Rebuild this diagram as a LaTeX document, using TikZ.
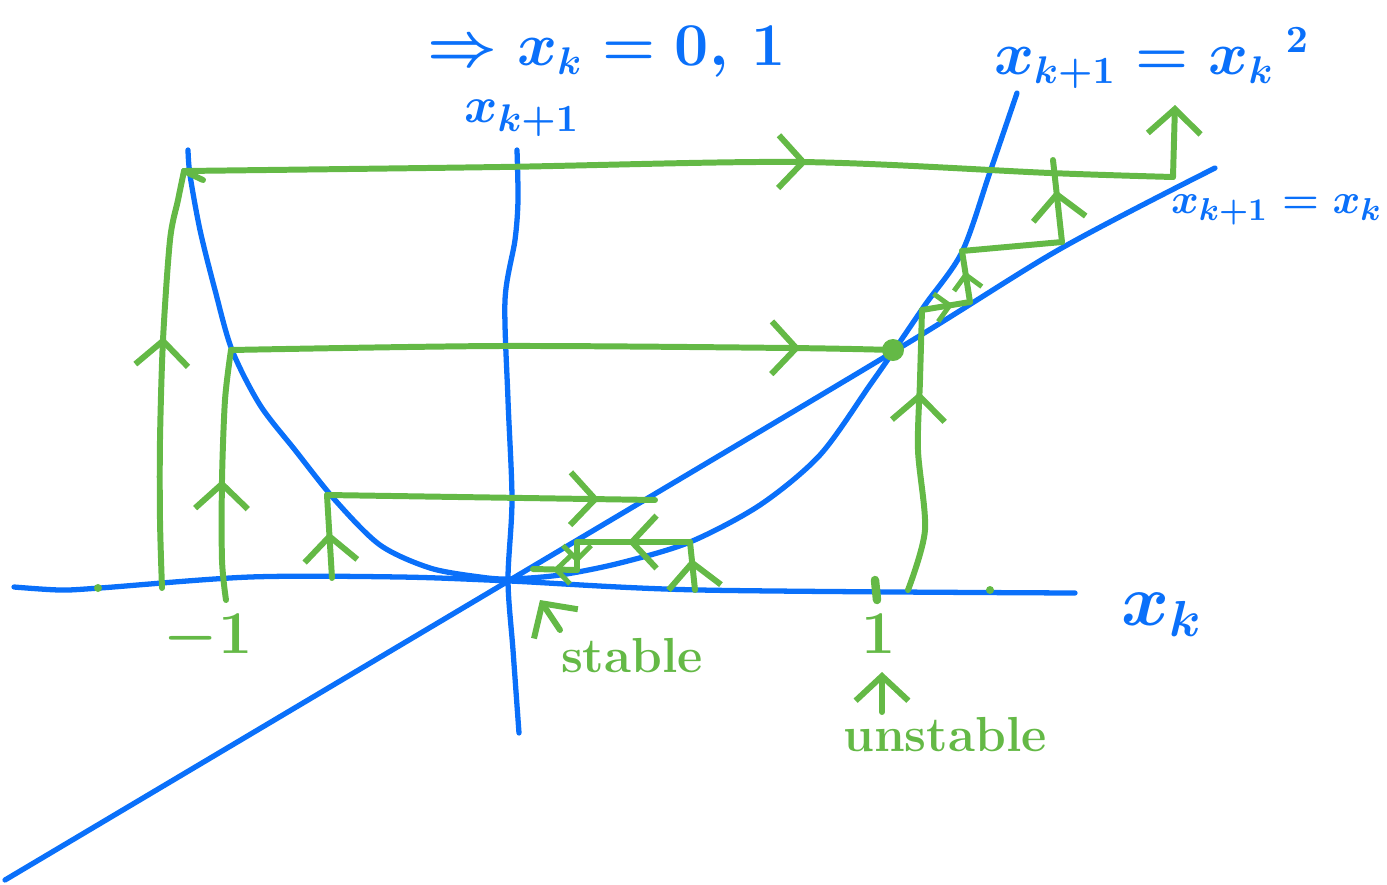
\documentclass[tikz,border=0pt]{standalone}
\usetikzlibrary{arrows.meta,decorations.markings}
\definecolor{pblue}{RGB}{10,112,250}
\definecolor{pgreen}{RGB}{100,185,70}
\begin{document}
\begin{tikzpicture}[x=0.01cm,y=-0.01cm,line cap=round,line join=round,
  bl/.style={pblue,line width=1.5pt},
  gr/.style={pgreen,line width=1.7pt},
  arr/.style={postaction={decorate},decoration={markings,mark=at position #1 with {\arrow[pgreen,line width=1.7pt]{Straight Barb[length=7pt,width=15pt]}}}},
  sarr/.style={postaction={decorate},decoration={markings,mark=at position #1 with {\arrow[pgreen,line width=1.4pt]{Straight Barb[length=4pt,width=8pt]}}}},
  tip/.style={-{Straight Barb[length=7pt,width=15pt]}},
  blab/.style={pblue,inner sep=0pt},
  glab/.style={pgreen,inner sep=0pt}]
\useasboundingbox (0,0) rectangle (1387,884);

% ---- blue axes and curves ----
\draw[bl] plot[smooth] coordinates {(14,587) (60,590) (100,588) (250,577) (400,577) (510,581) (700,590) (1075,593)};
\draw[bl] plot[smooth] coordinates {(517,150) (518,200) (515,240) (505,300) (508,400) (512,500) (508,580) (513,650) (519,733)};
\draw[bl] plot[smooth] coordinates {(5,880) (510,580) (893,352) (1060,249) (1215,168)};
\draw[bl] plot[smooth] coordinates {(188,150) (190,175) (200,230) (215,290) (232,350) (260,405) (295,450) (335,500) (380,545) (430,568) (480,577) (510,579) (560,575) (620,563) (690,542) (760,505) (820,455) (870,385) (893,352) (925,305) (962,252) (990,172) (1017,93)};

% ---- blue labels ----
\node[blab,font=\fontsize{16}{20}\selectfont\boldmath] (fix) at (607,52) {$\Rightarrow x_k = 0,\,1$};
\node[blab,font=\fontsize{15}{18}\selectfont\boldmath] (ylab) at (522,118) {$x_{k+1}$};
\node[blab,font=\fontsize{16}{20}\selectfont\boldmath] (plab) at (1152,58) {$x_{k+1}=x_k\,{}^{2}$};
\node[blab,font=\fontsize{12.5}{16}\selectfont\boldmath,anchor=east] (dlab) at (1383,210) {$x_{k+1}=x_k$};
\node[blab,font=\fontsize{21}{26}\selectfont\boldmath] (xlab) at (1162,615) {$x_k$};

% ---- cobweb coordinates ----
\coordinate (a0) at (162,588); \coordinate (a1) at (184,171);
\coordinate (a2) at (1173,177); \coordinate (a3) at (1175,105);
\coordinate (b0) at (226,600); \coordinate (b1) at (231,350);
\coordinate (c0) at (332,578); \coordinate (c1) at (327,495); \coordinate (c2) at (655,500);
\coordinate (d0) at (695,590); \coordinate (d1) at (690,542); \coordinate (d2) at (577,542);
\coordinate (d3) at (577,570); \coordinate (d4) at (533,569);
\coordinate (e0) at (908,590); \coordinate (e1) at (922,310); \coordinate (e2) at (970,302);
\coordinate (e3) at (962,251); \coordinate (e4) at (1062,242); \coordinate (e5) at (1053,160);

\node[pgreen,fill=pgreen,circle,inner sep=0pt,minimum width=0.22cm,minimum height=0.2cm] (fp) at (893,350) {};

% ---- outer cobweb from left ----
\draw[gr,arr=0.6] plot[smooth] coordinates {(a0) (160,520) (160,440) (163,340) (170,240) (178,200) (a1)};
\draw[gr,arr=0.63] plot[smooth] coordinates {(a1) (500,167) (800,162) (1050,173) (a2)};
\draw[gr] (a1) -- (203,180);
\draw[gr,tip] (a2) -- (a3);

% ---- cobweb from -1 ----
\draw[gr,arr=0.48] plot[smooth] coordinates {(b0) (222,560) (222,480) (225,400) (b1)};
\draw[gr,arr=0.86] plot[smooth] coordinates {(b1) (500,346) (790,348) (fp)};

% ---- cobweb C ----
\draw[gr,arr=0.55] (c0) -- (c1);
\draw[gr,arr=0.83] (c1) -- (c2);

% ---- stable cobweb ----
\draw[gr,arr=0.65] (d0) -- (d1);
\draw[gr,arr=0.55] (d1) -- (d2);
\draw[gr,sarr=0.75] (d2) -- (d3);
\draw[gr,sarr=0.55] (d3) -- (d4);

% ---- unstable cobweb ----
\draw[gr,arr=0.71] plot[smooth] coordinates {(e0) (925,530) (918,450) (920,380) (e1)};
\draw[gr,sarr=0.65] (e1) -- (e2);
\draw[gr,sarr=0.6] (e2) -- (e3);
\draw[gr] (e3) -- (e4);
\draw[gr,arr=0.63] (e4) -- (e5);

% ---- ticks and marks ----
\fill[pgreen] (98,588) circle (4);
\fill[pgreen] (990,590) circle (4);
\draw[pgreen,line width=2.4pt] (875,580) -- (877,600);
\node[glab,font=\fontsize{17}{21}\selectfont\boldmath] (m1) at (208,638) {$-1$};
\node[glab,font=\fontsize{17}{21}\selectfont\boldmath] (p1) at (879,634) {$1$};

% ---- stable / unstable labels ----
\node[glab,font=\fontsize{14}{18}\selectfont\bfseries] (st) at (632,656) {stable};
\coordinate (sttail) at (560,630);
\coordinate (sthead) at (540,600);
\draw[gr,tip] (sttail) -- (sthead);
\node[glab,font=\fontsize{14}{18}\selectfont\bfseries] (un) at (945,735) {unstable};
\coordinate (untail) at (882,712);
\coordinate (unhead) at (882,672);
\draw[gr,tip] (untail) -- (unhead);
\end{tikzpicture}
\end{document}
